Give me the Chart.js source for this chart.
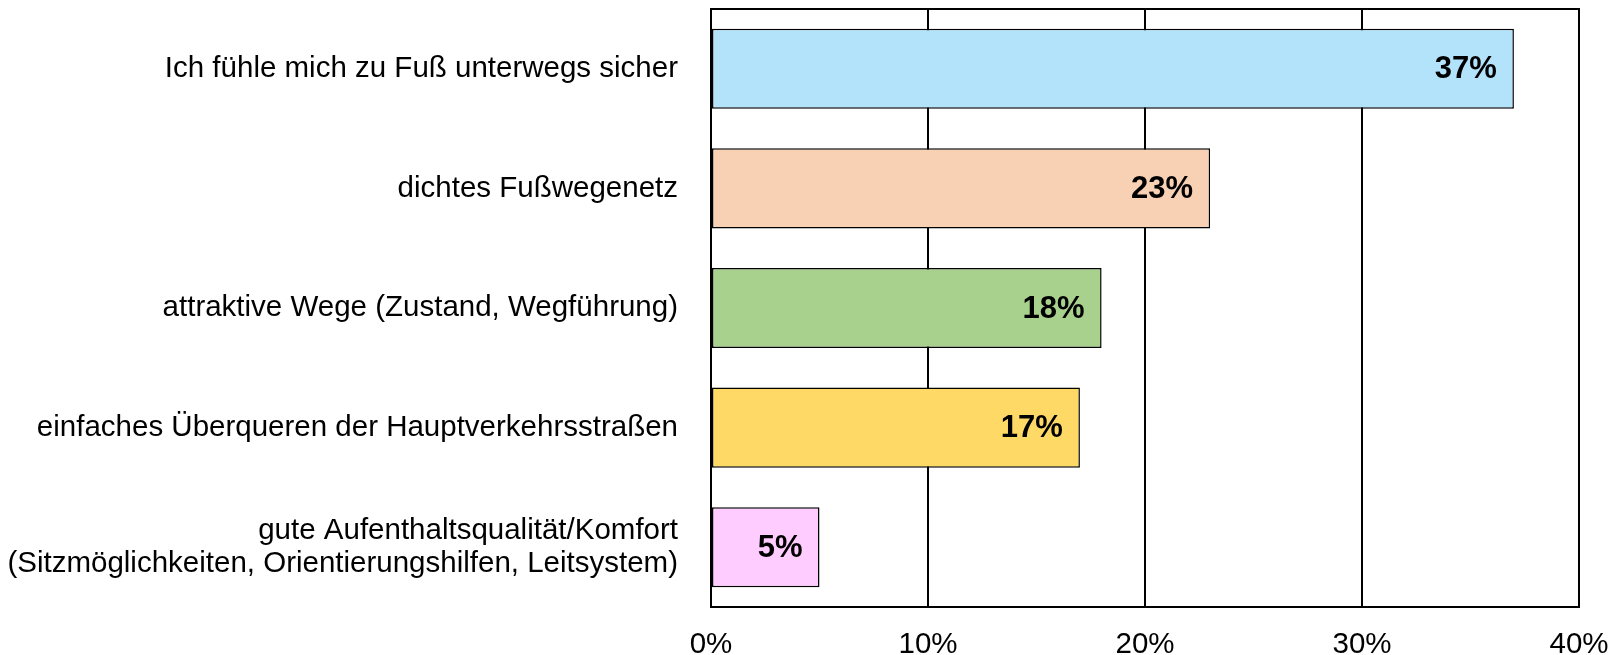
<!DOCTYPE html>
<html>
<head>
<meta charset="utf-8">
<script src="https://cdn.jsdelivr.net/npm/chart.js@4/dist/chart.umd.min.js"></script>
<style>
html,body{margin:0;padding:0;background:#fff;}
#wrap{width:1612px;height:655px;position:relative;}
</style>
</head>
<body>
<div id="wrap"><canvas id="c" width="1612" height="655"></canvas></div>
<script>
const categories = [
  "Ich fühle mich zu Fuß unterwegs sicher",
  "dichtes Fußwegenetz",
  "attraktive Wege (Zustand, Wegführung)",
  "einfaches Überqueren der Hauptverkehrsstraßen",
  ["gute Aufenthaltsqualität/Komfort", "(Sitzmöglichkeiten, Orientierungshilfen, Leitsystem)"]
];
const values = [37, 23, 18, 17, 5];
const barColors = ["#B3E3FB", "#F8D0B4", "#A9D18E", "#FFD966", "#FFCCFF"];
const xTicks = [0, 10, 20, 30, 40];

Chart.defaults.font.family = "'Liberation Sans', Arial, sans-serif";
Chart.defaults.color = "#000";

const valueLabels = {
  id: 'valueLabels',
  afterDatasetsDraw(chart) {
    const ctx = chart.ctx;
    const meta = chart.getDatasetMeta(0);
    ctx.save();
    ctx.font = "bold 31px 'Liberation Sans', Arial, sans-serif";
    ctx.fillStyle = "#000";
    ctx.textAlign = "right";
    ctx.textBaseline = "middle";
    meta.data.forEach((bar, i) => {
      ctx.fillText(values[i] + "%", bar.x - 17, bar.y + 1);
    });
    ctx.restore();
  }
};
const frame = {
  id: 'frame',
  afterDraw(chart) {
    const a = chart.chartArea, ctx = chart.ctx;
    ctx.save();
    ctx.strokeStyle = "#000";
    ctx.lineWidth = 2;
    ctx.strokeRect(a.left, a.top, a.right - a.left, a.bottom - a.top);
    ctx.restore();
  }
};

new Chart(document.getElementById('c'), {
  type: 'bar',
  data: {
    labels: categories,
    datasets: [{
      data: values,
      backgroundColor: barColors,
      borderColor: "#000",
      borderWidth: 1.5,
      borderSkipped: false,
      barPercentage: 0.67,
      categoryPercentage: 1
    }]
  },
  options: {
    indexAxis: 'y',
    responsive: false,
    animation: false,
    layout: { padding: { top: 9, right: 33, bottom: 0, left: 0 } },
    plugins: { legend: { display: false }, tooltip: { enabled: false } },
    scales: {
      x: {
        min: 0, max: 40,
        afterBuildTicks(scale) { scale.ticks = xTicks.map(v => ({ value: v })); },
        afterFit(scale) { scale.height = 48; scale.paddingLeft = 0; scale.paddingRight = 0; },
        grid: { color: "#000", lineWidth: 2, drawTicks: false },
        border: { display: true, color: "#000", width: 2 },
        ticks: { font: { size: 29.5 }, padding: 20, callback: v => v + "%", maxRotation: 0 }
      },
      y: {
        afterFit(scale) { scale.width = 711; scale.paddingTop = 0; scale.paddingBottom = 0; },
        grid: { display: false, drawTicks: false },
        border: { display: true, color: "#000", width: 2 },
        ticks: { font: { size: 29.5, lineHeight: 1.12 }, padding: 33 }
      }
    }
  },
  plugins: [valueLabels, frame]
});
</script>
</body>
</html>
